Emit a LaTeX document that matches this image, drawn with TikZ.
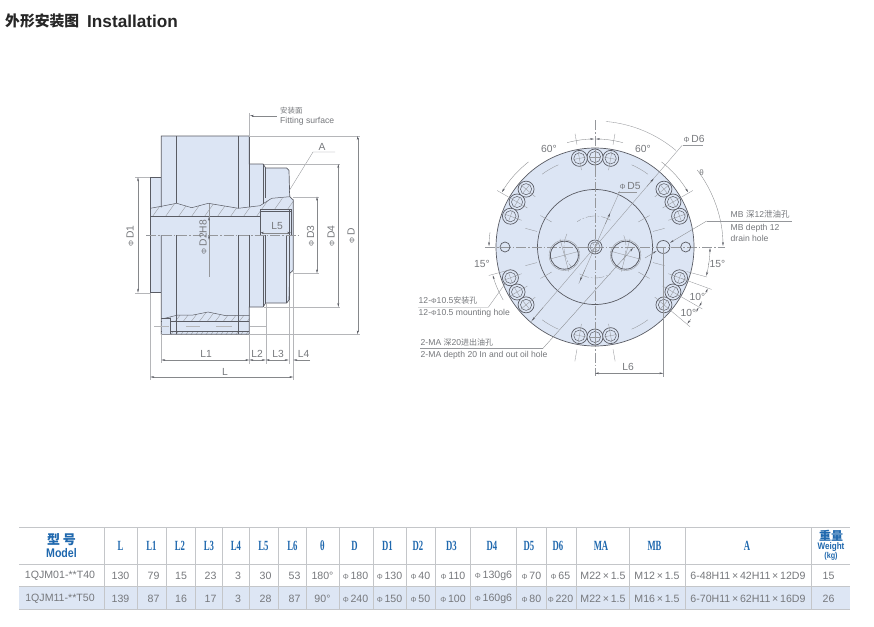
\documentclass[tikz,border=0pt]{standalone}
\usepackage{fontspec}
\setmainfont{Liberation Sans}
\newfontfamily\cjk{Noto Sans CJK SC}
\newcommand{\cjkb}{\cjk\bfseries}
\newfontfamily\hdfontx[FakeStretch=0.62]{Liberation Serif}
\newcommand{\hdfont}{\hdfontx\bfseries}
\newfontfamily\mdfontx[FakeStretch=0.85]{Liberation Sans}
\newcommand{\mdfont}{\mdfontx\bfseries}
\usetikzlibrary{arrows.meta,calc}
\definecolor{bodyblue}{HTML}{DCE5F4}
\definecolor{rowblue}{HTML}{DDE6F4}
\definecolor{outl}{HTML}{5A5C64}
\definecolor{thin}{HTML}{95979B}
\definecolor{txt}{HTML}{76787C}
\definecolor{hd}{HTML}{1F68AE}
\definecolor{grid}{HTML}{C4C6C9}
\newcommand{\fs}[1]{\fontsize{#1}{#1}\selectfont}
\newcommand{\PH}{{\fs{7.5}Φ}\,}
\tikzset{
  x=1pt,y=-1pt,
  outline/.style={draw=outl,line width=.7pt},
  thinl/.style={draw=thin,line width=.35pt},
  extl/.style={draw=thin!70,line width=.35pt},
  hatchl/.style={draw=thin,line width=.35pt},
  cline/.style={draw=thin,line width=.35pt,dash pattern=on 10pt off 2pt on 1.5pt off 2pt},
  dim/.style={draw=thin!90!black,line width=.35pt,{Stealth[length=4pt,width=1.8pt,color=outl]}-{Stealth[length=4pt,width=1.8pt,color=outl]}},
  arr/.style={draw=thin!90!black,line width=.35pt,-{Stealth[length=4pt,width=1.8pt,color=outl]}},
  lab/.style={text=txt,font=\fs{10.3},inner sep=0pt},
  slab/.style={text=txt,font=\fs{8.6},inner sep=0pt,anchor=west},
  cel/.style={text=txt,font=\fs{10.6},inner sep=0pt},
  hcel/.style={text=hd,font=\hdfont\fs{14},inner sep=0pt},
}
\begin{document}
\begin{tikzpicture}
\useasboundingbox[fill=white] (0,0) rectangle (874,626);
% title
\node[anchor=west,inner sep=0pt,text=black!85] (title) at (5,21) {\cjkb\fs{14.8}外形安装图};
\node[anchor=west,inner sep=0pt,text=black!85] (title2) at (87,21) {\bfseries\fs{17.2}Installation};

%%% LEFT VIEW
\fill[bodyblue] (150.3,177.3)--(161.3,177.3)--(161.3,136)--(249.3,136)--(249.3,164)--(263,164)--(265.7,168)--(286.7,168)--(289,170.5)--(289.7,196.7)--(293.3,200)--(293.3,270)--(289.7,273.5)--(289,300)--(286.7,303)--(265.7,303)--(263,307)--(249.3,307)--(249.3,334.3)--(161.3,334.3)--(161.3,292.7)--(150.3,292.7)--cycle;
% top section hatching
\begin{scope}
\clip (150.3,208.3)--(176.7,203.3)--(191.7,207.7)--(208.3,203.3)--(238.3,208.3)--(260,205.7)--(271.7,198.3)--(290,198.3)--(293.3,201)--(293.3,209)--(260,209)--(260,216.7)--(150.3,216.7)--cycle;
\foreach \q in {150,163,...,300} \draw[hatchl] (\q,220)--(\q+17,196);
\end{scope}
% bottom section hatching
\begin{scope}
\clip (161.7,319)--(178,315)--(193,315)--(208,312)--(225,315.5)--(249.3,315.7)--(249.3,321)--(161.7,321)--cycle;
\foreach \q in {150,158,...,260} \draw[hatchl] (\q,323)--(\q+10,310);
\end{scope}
\begin{scope}
\clip (170,331)--(249.3,331)--(249.3,334.3)--(170,334.3)--cycle;
\foreach \q in {165,170,...,255} \draw[hatchl] (\q,336)--(\q+5,329);
\end{scope}
% outline
\draw[outline] (161.3,207.3)--(161.3,136)--(249.3,136)--(249.3,164)--(263,164)--(265.7,168)--(286.7,168)--(289,170.5)--(289.7,196.7)--(293.3,200)--(293.3,270)--(289.7,273.5)--(289,300)--(286.7,303)--(265.7,303)--(263,307)--(249.3,307)--(249.3,334.3)--(161.3,334.3)--(161.3,235);
\draw[outline] (150.3,207.3)--(150.3,177.3)--(161.3,177.3) (150.3,207.3)--(150.3,292.7)--(161.3,292.7);
\draw[outline] (176.7,136)--(176.7,203.3) (238.3,136)--(238.3,208.3) (249.3,136)--(249.3,206.5);
\draw[outline] (176.7,235)--(176.7,334.3) (238.3,235)--(238.3,334.3) (249.3,235)--(249.3,307);
\draw[outline] (263,164)--(263,204) (265.7,168)--(265.7,198.3);
\draw[outline] (263,235)--(263,307) (265.7,235)--(265.7,303) (286.7,235)--(286.7,303) (289,235)--(289,300);
% section profile
\draw[thinl,draw=outl,line width=.5pt] (150.3,208.3)--(161.3,206.3)--(176.7,203.3)--(191.7,207.7)--(208.3,203.3)--(238.3,208.3)--(260,205.7)--(271.7,198.3)--(289.7,196.7);
\draw[outline] (150.3,216.7)--(260,216.7) (260,235)--(260,209)--(291,209)--(291,235);
\draw[outline,line width=.4pt] (260,211)--(291,211) (288.7,209)--(288.7,235);
% lower section
\draw[outl,line width=.5pt] (161.7,319)--(178,315)--(193,315)--(208,312)--(225,315.5)--(249.3,315.7);
\draw[outline,line width=.5pt] (161.3,321)--(249.3,321) (161.3,331)--(249.3,331);
\draw[bodyblue,fill=bodyblue] (161.8,319.5) rectangle (169.7,333.5);
\draw[outline,line width=.5pt] (161.3,318.5)--(170,318.5)--(170,334.3);
\draw[extl] (186,326)--(200,326) (216,326)--(232,326);
\draw[extl] (154.3,326)--(169,326) (250,326)--(265.7,326);
% centre line
\draw[cline] (146,235)--(300,235);
% fitting surface
\draw[extl] (249.3,113)--(249.3,136);
\draw[arr] (276.7,115.7)--(250,115.7);
\node[text=txt,inner sep=0pt,anchor=west] (fs1) at (280,111) {\cjk\fs{7.5}安装面};
\node[slab] (fs2) at (280,121) {Fitting surface};
% A
\draw[thinl] (289,191)--(313,152)--(335,152);
\node[lab] (A) at (322,147) {A};
% vertical dims
\draw[extl] (249.3,136)--(360,136) (249.3,334.3)--(360,334.3) (264,164)--(340,164) (264,307)--(340,307) (293.3,196.7)--(319,196.7) (293.3,273.3)--(319,273.3) (135,177.3)--(150.3,177.3) (135,292.7)--(150.3,292.7);
\draw[dim] (357.7,136)--(357.7,334.3);
\draw[dim] (338.3,164)--(338.3,307);
\draw[dim] (317,196.7)--(317,273.3);
\draw[dim] (138,177.3)--(138,292.7);
\node[lab,rotate=90] (d) at (351,236) {\PH D};
\node[lab,rotate=90] (d4) at (331,236) {\PH D4};
\node[lab,rotate=90] (d3) at (310.5,236) {\PH D3};
\node[lab,rotate=90] (d1) at (130,236) {\PH D1};
\draw[thinl] (209,203.5)--(209,276.7);
\draw[arr] (209,226)--(209,216.7);
\draw[arr] (209,225)--(209,240);
\node[lab,rotate=90] (d2) at (203,237) {\PH D2H8};
% L5
\draw[dim] (260,232.7)--(291,232.7);
\node[lab] (l5) at (277,226) {L5};
% bottom dims
\draw[extl] (161.3,334.3)--(161.3,363) (249.3,334.3)--(249.3,364) (265.7,303)--(265.7,364) (288.7,300)--(288.7,364) (293.3,270)--(293.3,380) (150.3,292.7)--(150.3,380);
\draw[dim] (161.3,360)--(249.3,360);
\draw[dim] (249.3,360)--(265.7,360);
\draw[dim] (265.7,360)--(288.7,360);
\draw[arr] (310,360)--(293.3,360);
\draw[dim] (150.3,377)--(293.3,377);
\node[lab] (l1) at (206,354) {L1};
\node[lab] (l2) at (257,354) {L2};
\node[lab] (l3) at (278,354) {L3};
\node[lab] (l4) at (303.7,354) {L4};
\node[lab] (l) at (225,372) {L};

%%% RIGHT VIEW
\begin{scope}[shift={(595,247)}]
\fill[bodyblue] (0,0) circle[radius=99pt];
\draw[outline] (0,0) circle[radius=99pt];
\draw[outline] (0,0) circle[radius=57.5pt];
% long centre dashes
\foreach \a in {60,120,240,300} \draw[thinl] (\a-6:90pt) arc[start angle=\a-6,end angle=\a+6,radius=90pt];
\foreach \a in {30,150,210,330} \draw[thinl] (\a:50pt)--(\a:63pt);
\foreach \a in {15,165,195,345} \draw[thinl] (\a:60pt)--(\a:72pt);
% centre lines
\draw[cline] (-110,0)--(130,0);
\draw[cline] (0,-127)--(0,129);
% pitch circle of ports
\draw[cline] (60:31pt) arc[start angle=60,end angle=125,radius=31pt];
\draw[cline] (240:31pt) arc[start angle=240,end angle=300,radius=31pt];
\draw[cline] (-25:31pt) arc[start angle=-25,end angle=25,radius=31pt];
\draw[cline] (155:31pt) arc[start angle=155,end angle=220,radius=31pt];
% ports
\foreach \a in {195,345} {
  \draw[thinl] (\a:16pt)--(\a:47pt);
  \draw[thinl] ($(\a:31.7pt)+(\a+90:17pt)$)--($(\a:31.7pt)+(\a-90:17pt)$);
  \draw[outl,line width=.8pt] (\a:31.7pt) circle[radius=14pt];
  \draw[thinl] (\a:31.7pt) circle[radius=15.3pt];
}
% central hole
\draw[outline] (0,0) circle[radius=7pt];
\draw[thinl,draw=outl] (0,0) circle[radius=5pt];
\foreach \a in {0,60,...,300} \draw[thinl] (\a:2pt)--(\a:7pt);
% mounting holes
\foreach \m in {30,90,150,210,270,330} \foreach \o in {-10,0,10} {
  \pgfmathsetmacro{\a}{\m+\o}
  \draw[outline,fill=bodyblue] (\a:90pt) circle[radius=8pt];
  \draw[outline,line width=.5pt] (\a:90pt) circle[radius=5.6pt];
  \draw[thinl] (\a:78pt)--(\a:97pt);
  \draw[thinl] ($(\a:90pt)+(\a+90:6pt)$)--($(\a:90pt)+(\a-90:6pt)$);
}
% drain holes
\draw[outline] (180:90pt) circle[radius=5pt];
\draw[outline] (0:90.7pt) circle[radius=5pt];
\draw[outline] (0:68.3pt) circle[radius=6.5pt];
% 60 degree dims
\draw[thinl] (150:100pt)--(150:113pt) (30:100pt)--(30:113pt);
\draw[thinl] (100:104pt)--(100:115pt) (80:104pt)--(80:115pt) (260:104pt)--(260:116pt) (280:104pt)--(280:116pt);
\draw[arr] (128:108pt) arc[start angle=128,end angle=149.5,radius=108pt];
\draw[arr] (105:108pt) arc[start angle=105,end angle=90.5,radius=108pt];
\draw[arr] (75:108pt) arc[start angle=75,end angle=89.5,radius=108pt];
\draw[arr] (52:108pt) arc[start angle=52,end angle=30.5,radius=108pt];
% theta
\draw[thinl] (85:126pt) arc[start angle=85,end angle=50,radius=126pt];
\draw[arr] (37:128pt) arc[start angle=37,end angle=0.5,radius=128pt];
% D6, D5
\draw[thinl] (49.4:134pt)--(229.4:100pt);
\draw[arr] (49.4:80pt)--(49.4:90pt);
\draw[arr] (229.4:80pt)--(229.4:97pt);
\draw[thinl] (66:61pt)--(246:40pt);
\draw[arr] (66:25pt)--(66:37pt);
\draw[arr] (246:25pt)--(246:37pt);
% 15 degree dims
\draw[thinl] (195:88pt)--(195:110pt) (-15:95pt)--(-15:116pt);
\draw[arr] (172:106pt) arc[start angle=172,end angle=179.5,radius=106pt];
\draw[arr] (210:106pt) arc[start angle=210,end angle=195.5,radius=106pt];
\draw[arr] (-9:115pt) arc[start angle=-9,end angle=-0.5,radius=115pt];
\draw[arr] (-8:115pt) arc[start angle=-8,end angle=-14.5,radius=115pt];
% 10 degree dims
\draw[thinl] (-20:92pt)--(-20:124pt) (-30:95pt)--(-30:124pt) (-40:97pt)--(-40:124pt);
\draw[arr] (-23:120pt) arc[start angle=-23,end angle=-20.3,radius=120pt];
\draw[arr] (-27:120pt) arc[start angle=-27,end angle=-29.7,radius=120pt];
\draw[arr] (-33:120pt) arc[start angle=-33,end angle=-30.3,radius=120pt];
\draw[arr] (-37:120pt) arc[start angle=-37,end angle=-39.7,radius=120pt];
\end{scope}
% leaders
\draw[thinl] (683.3,145)--(703,145);
\draw[thinl] (618.3,191.7)--(636.7,191.7);
\draw[thinl] (420,348.3)--(543,348.3);
\draw[arr] (543,348.3)--(633,248);
\draw[thinl] (418,307.3)--(488.3,307.3)--(507,281);
\draw[thinl] (706.7,221)--(791.7,221);
\draw[arr] (706.7,221)--(670,242.7);
\draw[arr] (645,258)--(656.5,251);
% L6
\draw[thinl] (663.3,247)--(663.3,377);
\draw[dim] (595,373.3)--(663.3,373.3);
% right-view labels
\node[lab] (t60a) at (549,149) {60°};
\node[lab] (t60b) at (643,149) {60°};
\node[text=txt,font=\fs{8},inner sep=0pt] (theta) at (701.5,172.5) {θ};
\node[lab,anchor=west] (d6) at (683.5,139) {\PH D6};
\node[lab,anchor=west] (d5) at (619.5,186) {\PH D5};
\node[lab] (t15a) at (482,263.5) {15°};
\node[lab] (t15b) at (717.5,264) {15°};
\node[lab] (t10a) at (697.5,296.5) {10°};
\node[lab] (t10b) at (688.5,312.5) {10°};
\node[lab] (l6) at (628,366.5) {L6};
\node[slab] (mb1) at (730.5,214) {MB {\cjk\fs{8.5}深}12{\cjk\fs{8.5}泄油孔}};
\node[slab] (mb2) at (730.5,228.5) {MB depth 12};
\node[slab] (mb3) at (730.5,238.5) {drain hole};
\node[slab] (h1) at (418.5,300.5) {12-{\fs{7}Φ}10.5{\cjk\fs{8}安装孔}};
\node[slab] (h2) at (418.5,313) {12-{\fs{7}Φ}10.5 mounting hole};
\node[slab] (m1) at (420.5,342.5) {2-MA {\cjk\fs{8}深}20{\cjk\fs{8}进出油孔}};
\node[slab] (m2) at (420.5,355.5) {2-MA depth 20 In and out oil hole};

%%% TABLE
\fill[rowblue] (19,586.7) rectangle (849.7,609.3);
\draw[grid,line width=.9pt] (19,527.3)--(849.7,527.3) (19,564.3)--(849.7,564.3) (19,609.3)--(849.7,609.3);
\draw[grid,line width=.5pt] (19,586.7)--(849.7,586.7);
\foreach \q in {104.3,137.3,166.3,195.7,222.7,249.3,278.3,306.7,339,373.3,406.3,435.3,470.7,516.3,546.3,576.7,629.7,685.7,811.3}
  \draw[grid,line width=.6pt] (\q,527.3)--(\q,609.3);
% header
\node[text=hd,inner sep=0pt] (h0) at (61.5,540) {\cjkb\fs{13}型\hspace{3pt}号};
\node[text=hd,inner sep=0pt] (h0b) at (61.5,553.5) {\mdfont\fs{12.5}Model};
\foreach \q/\t in {120.5/L,151.5/L1,180/L2,209/L3,236/L4,263.5/L5,292.5/L6,322.5/θ,354.5/D,387.5/D1,418/D2,451.5/D3,492/D4,529/D5,558/D6,601/MA,654.5/MB,747/A}
  \node[hcel] at (\q,546) {\t};
\node[text=hd,inner sep=0pt] (w1) at (831,536) {\cjkb\fs{12}重量};
\node[text=hd,inner sep=0pt] (w2) at (831,547) {\mdfont\fs{9.5}Weight};
\node[text=hd,inner sep=0pt] (w3) at (831,556.5) {\mdfont\fs{8.5}(kg)};
% rows
\node[cel] at (60,576) {1QJM01-**T40};
\node[cel] at (60,598.5) {1QJM11-**T50};
\foreach \q/\t/\u in {120.5/130/139,153.5/79/87,181/15/16,210.5/23/17,238/3/3,265.5/30/28,294.5/53/87,322.5/180°/90°,355.5/\PH 180/\PH 240,389.5/\PH 130/\PH 150,420.5/\PH 40/\PH 50,453/\PH 110/\PH 100,493.5/\PH 130g6/\PH 160g6,531.5/\PH 70/\PH 80,560.5/\PH 65/\PH 220,603/M22\,×\,1.5/M22\,×\,1.5,657/M12\,×\,1.5/M16\,×\,1.5,748/6-48H11\,×\,42H11\,×\,12D9/6-70H11\,×\,62H11\,×\,16D9,828.5/15/26} {
  \node[cel] at (\q,576) {\t};
  \node[cel] at (\q,598.5) {\u};
}
\end{tikzpicture}
\end{document}
